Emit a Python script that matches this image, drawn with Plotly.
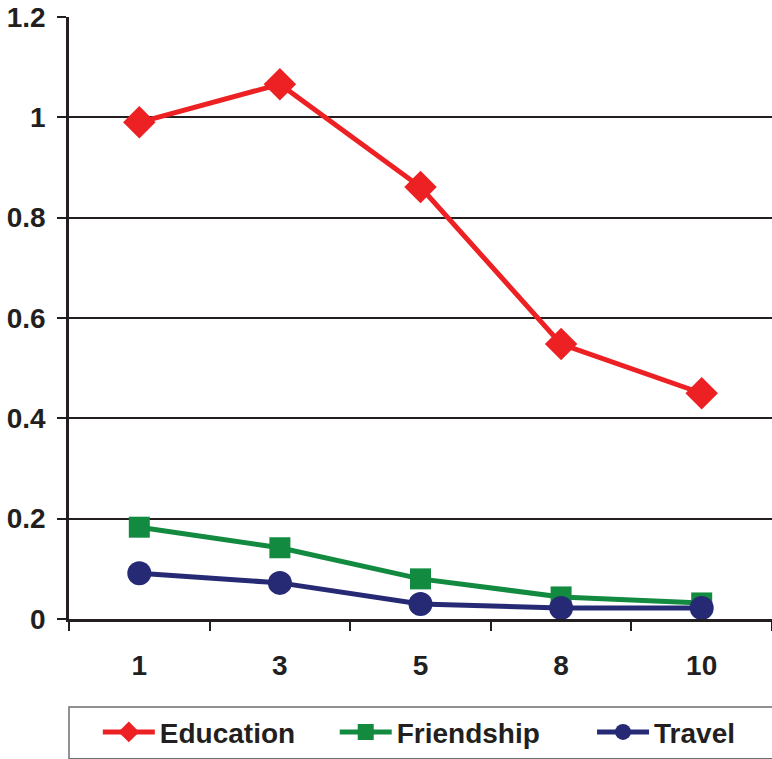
import plotly.graph_objects as go

categories = ["1", "3", "5", "8", "10"]
education = [0.99, 1.066, 0.861, 0.548, 0.45]
friendship = [0.183, 0.142, 0.080, 0.044, 0.032]
travel = [0.091, 0.072, 0.030, 0.022, 0.022]
y_ticks = [0, 0.2, 0.4, 0.6, 0.8, 1.0, 1.2]
y_tick_labels = ["0", "0.2", "0.4", "0.6", "0.8", "1", "1.2"]

FONT = "Liberation Sans, Arial, sans-serif"
TXT = "#231F20"

fig = go.Figure()
fig.add_trace(go.Scatter(x=categories, y=education, name="Education", mode="lines+markers",
                         line=dict(color="#ED2024", width=5), legend="legend",
                         marker=dict(symbol="diamond", size=25, color="#ED2024")))
fig.add_trace(go.Scatter(x=categories, y=friendship, name="Friendship", mode="lines+markers",
                         line=dict(color="#128A3F", width=5), legend="legend2",
                         marker=dict(symbol="square", size=21, color="#128A3F")))
fig.add_trace(go.Scatter(x=categories, y=travel, name="Travel", mode="lines+markers",
                         line=dict(color="#262A74", width=5), legend="legend3",
                         marker=dict(symbol="circle", size=24, color="#262A74")))

def leg(x):
    return dict(orientation="h", x=x, xanchor="left", y=-0.188, yanchor="middle",
                font=dict(family=FONT, size=28, color=TXT, weight="bold"),
                bgcolor="rgba(0,0,0,0)", itemwidth=52)

fig.update_layout(
    width=772, height=759,
    margin=dict(l=69, r=0, t=17, b=140),
    paper_bgcolor="white", plot_bgcolor="white",
    font=dict(family=FONT, size=28, color=TXT, weight="bold"),
    showlegend=True,
    legend=leg(0.041), legend2=leg(0.378), legend3=leg(0.744),
    shapes=[dict(type="rect", xref="paper", yref="paper", x0=0.0, x1=1.01, y0=-0.232, y1=-0.146,
                 line=dict(color="#6D6E71", width=1.5), fillcolor="rgba(0,0,0,0)", layer="below")],
)
fig.update_xaxes(type="category", range=[-0.5, 4.5], showline=True, linecolor=TXT, linewidth=2.5,
                 ticks="outside", tickson="boundaries", ticklen=9, tickwidth=2, tickcolor=TXT,
                 showgrid=False, ticklabelstandoff=20,
                 tickfont=dict(family=FONT, size=28, color=TXT, weight="bold"))
fig.update_yaxes(range=[0, 1.2], tickvals=y_ticks, ticktext=y_tick_labels, showline=True,
                 linecolor=TXT, linewidth=2.5, ticks="outside", ticklen=9, tickwidth=2,
                 tickcolor=TXT, showgrid=True, gridcolor=TXT, gridwidth=1.5,
                 zeroline=False, ticklabelstandoff=6,
                 tickfont=dict(family=FONT, size=28, color=TXT, weight="bold"))

fig.write_html("out.html")
